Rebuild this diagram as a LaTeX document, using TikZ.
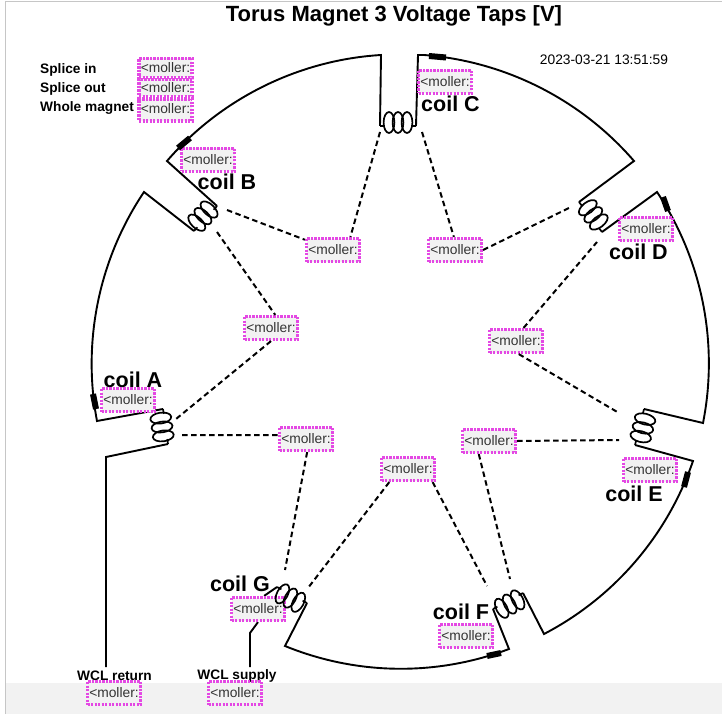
\documentclass[tikz,border=0pt]{standalone}
\usepackage{fontspec}
\setmainfont{Liberation Sans}
\usetikzlibrary{calc,backgrounds}
\definecolor{mag}{HTML}{E448E4}
\definecolor{band}{HTML}{F2F2F2}
\definecolor{framec}{HTML}{C6C6C6}
\tikzset{
  wire/.style={line width=1.9pt,line join=miter,black},
  coilline/.style={line width=1.7pt,black},
  tap/.style={line width=2pt,dash pattern=on 5.5pt off 3.5pt,black},
  thickseg/.style={line width=6pt,black},
  arcw/.style={bend left=#1,looseness=0.885},
  moller/.style={draw=mag,fill=band,line width=3.2pt,dash pattern=on 2.2pt off 1.3pt,
    minimum width=53pt,minimum height=23pt,inner sep=0pt,text=black!80,
    font=\fontsize{13.8}{15}\selectfont},
  coillabel/.style={font=\fontsize{21.5}{24}\selectfont\bfseries,inner sep=0pt},
  leglabel/.style={font=\fontsize{13.7}{15}\selectfont\bfseries,inner sep=0pt,anchor=west},
  wcllabel/.style={font=\fontsize{13.7}{16}\selectfont\bfseries,inner sep=0pt},
  coilpic/.pic={
    \draw[coilline] (-9,-3.5) ellipse [x radius=5.4,y radius=10.5];
    \draw[coilline] (0,-3.5) ellipse [x radius=5.4,y radius=10.5];
    \draw[coilline] (9,-3.5) ellipse [x radius=5.4,y radius=10.5];
  }
}
\newcommand{\coilsym}[3]{%
  \draw[coilline] (#1) -- ($(#1)!5pt!(#2)$);
  \draw[coilline] (#2) -- ($(#2)!5pt!(#1)$);
  \pic[rotate=#3] at ($(#1)!0.5!(#2)$) {coilpic};
}
\begin{document}
\begin{tikzpicture}[x=1pt,y=-1pt]
\useasboundingbox (0,0) rectangle (722,714);
\begin{scope}[on background layer]
  \fill[white] (0,0) rectangle (722,714);
  \fill[band] (6,683) rectangle (722,714);
  \draw[framec,line width=1.2pt] (5.5,714) -- (5.5,1.5) -- (722,1.5);
\end{scope}
% terminals
\coordinate (C1) at (380,126); \coordinate (C2) at (416,126);
\coordinate (D1) at (579,202); \coordinate (D2) at (602,232);
\coordinate (E1) at (644,409); \coordinate (E2) at (635,445);
\coordinate (F1) at (523,593); \coordinate (F2) at (493,609);
\coordinate (G1) at (307,603); \coordinate (G2) at (277,587);
\coordinate (A1) at (163,409); \coordinate (A2) at (168,444);
\coordinate (B1) at (194,231); \coordinate (B2) at (217,206);
% tap ends
\coordinate (tC1) at (380,132); \coordinate (tC2) at (422,132);
\coordinate (tD1) at (571,207); \coordinate (tD2) at (597,242);
\coordinate (tE1) at (619,413); \coordinate (tE2) at (619,440);
\coordinate (tF1) at (487,586); \coordinate (tF2) at (510,579);
\coordinate (tG1) at (285,570); \coordinate (tG2) at (308,588);
\coordinate (tA1) at (176,419); \coordinate (tA2) at (182,435);
\coordinate (tB1) at (227,210); \coordinate (tB2) at (217,232);
% labels
\node[inner sep=0pt,font=\fontsize{22}{25}\selectfont\bfseries] (title) at (394,16) {Torus Magnet 3 Voltage Taps [V]};
\node[inner sep=0pt,font=\fontsize{13.8}{16}\selectfont] (stamp) at (604,60) {2023-03-21 13:51:59};
\node[leglabel] (l1) at (40,69.5) {Splice in};
\node[leglabel] (l2) at (40,88.5) {Splice out};
\node[leglabel] (l3) at (40,108) {Whole magnet};
\node[coillabel] (cA) at (133,380) {coil A};
\node[coillabel] (cB) at (227,182) {coil B};
\node[coillabel] (cC) at (450.5,104) {coil C};
\node[coillabel] (cD) at (638.5,252) {coil D};
\node[coillabel] (cE) at (634,494) {coil E};
\node[coillabel] (cF) at (461,612) {coil F};
\node[coillabel] (cG) at (240,584) {coil G};
\node[wcllabel] (wr) at (114.5,676) {WCL return};
\node[wcllabel] (ws) at (237,676) {WCL supply};
% moller boxes
\node[moller,minimum height=19pt] (m1l) at (165.5,68) {<moller:};
\node[moller,minimum height=17pt] (m2l) at (165.5,88) {<moller:};
\node[moller,minimum height=22pt] (m3l) at (165.5,110) {\raisebox{2pt}{<moller:}};
\node[moller] (mA) at (128,400) {<moller:};
\node[moller] (mB) at (208,160) {<moller:};
\node[moller] (mC) at (445,82) {<moller:};
\node[moller] (mD) at (646,229) {<moller:};
\node[moller] (mE) at (650,470) {<moller:};
\node[moller] (mF) at (466,636) {<moller:};
\node[moller] (mG) at (258,609) {<moller:};
\node[moller] (mBC) at (333,250) {<moller:};
\node[moller] (mCD) at (455,250) {<moller:};
\node[moller] (mAB) at (271,328) {<moller:};
\node[moller] (mDE) at (516,341) {<moller:};
\node[moller] (mAG) at (306,439) {<moller:};
\node[moller] (mFG) at (408,469) {<moller:};
\node[moller] (mEF) at (489,441) {<moller:};
\node[moller] (mWr) at (114,693) {<moller:};
\node[moller] (mWs) at (235,693) {<moller:};
% wires
\begin{scope}[on background layer]
  \draw[wire] (B2) -- (167,161) to[arcw=22.9] (381,55) -- (C1);
  \draw[wire] (C2) -- (418,55) -- (424,55) to[arcw=22.4] (634,161) -- (D1);
  \draw[wire] (D2) -- (657,192) to[arcw=22.5] (703,423) -- (E1);
  \draw[wire] (E2) -- (693,461) to[arcw=21.7] (544,634) -- (F1);
  \draw[wire] (F2) -- (509,649) to[arcw=21.4] (285,646) -- (G1);
  \draw[wire] (A1) -- (97,421) to[arcw=22.3] (144,192) -- (B1);
  \coordinate (retEnd) at (106,667);
  \coordinate (supEnd) at (250,667);
  \draw[wire] (A2) -- (106,457) -- (retEnd);
  \draw[wire] (G2) -- (mG.65);
  \draw[wire] (mG.south) -- (250,633) -- (supEnd);
\end{scope}
% splice segments
\draw[thickseg] (429,56) -- (446,57.5);
\draw[thickseg] (178,148) -- (190,138);
\draw[thickseg] (663,197) -- (668,211);
\draw[thickseg] (688,472) -- (684,487);
\draw[thickseg] (501,653) -- (487,656);
\draw[thickseg] (93,394) -- (96,409);
% coils
\coilsym{C1}{C2}{0}
\coilsym{D1}{D2}{-52.5}
\coilsym{E1}{E2}{-104}
\coilsym{F1}{F2}{-152}
\coilsym{G1}{G2}{-208}
\coilsym{A2}{A1}{-262}
\coilsym{B1}{B2}{-313}
% taps
\draw[tap] (tC1) -- (mBC.37);
\draw[tap] (tC2) -- (mCD.95);
\draw[tap] (mCD.east) -- (tD1);
\draw[tap] (tB1) -- (mBC.160);
\draw[tap] (tB2) -- (mAB.72);
\draw[tap] (mAB.south) -- (tA1);
\draw[tap] (tA2) -- (mAG.172);
\draw[tap] (mAG.-85) -- (tG1);
\draw[tap] (mFG.215) -- (tG2);
\draw[tap] (mFG.-28) -- (tF1);
\draw[tap] (mEF.232) -- (tF2);
\draw[tap] (mEF.east) -- (tE2);
\draw[tap] (mDE.-78) -- (tE1);
\draw[tap] (mDE.60) -- (tD2);
\end{tikzpicture}
\end{document}
